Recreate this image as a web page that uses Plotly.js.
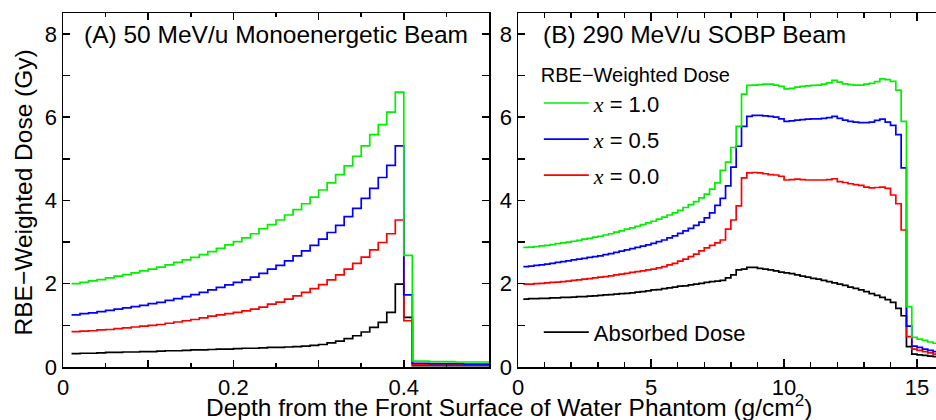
<!DOCTYPE html>
<html>
<head>
<meta charset="utf-8">
<script src="https://cdn.plot.ly/plotly-3.0.1.min.js"></script>
<style>html,body{margin:0;padding:0;background:#fff;}#chart{width:936px;height:420px;}</style>
</head>
<body>
<div id="chart"></div>
<script>
// ---- Panel A: 50 MeV/u monoenergetic beam (bin left edges, last entry = right edge of final bin) ----
const depthA = [0.01,0.02,0.03,0.04,0.05,0.06,0.07,0.08,0.09,0.10,
  0.11,0.12,0.13,0.14,0.15,0.16,0.17,0.18,0.19,0.20,
  0.21,0.22,0.23,0.24,0.25,0.26,0.27,0.28,0.29,0.30,
  0.31,0.32,0.33,0.34,0.35,0.36,0.37,0.38,0.39,0.40,
  0.41,0.42,0.43,0.44,0.45,0.46,0.47,0.48,0.49,0.50];
const greenA = [2.00,2.03,2.07,2.10,2.14,2.18,2.22,2.26,2.31,2.35,
  2.40,2.45,2.51,2.57,2.63,2.70,2.77,2.85,2.93,3.01,
  3.10,3.20,3.32,3.42,3.53,3.65,3.78,3.92,4.08,4.25,
  4.42,4.62,4.83,5.06,5.31,5.58,5.82,6.12,6.60,2.68,
  0.14,0.14,0.13,0.13,0.13,0.12,0.12,0.12,0.12];
const blueA = [1.25,1.28,1.30,1.33,1.36,1.39,1.42,1.45,1.48,1.52,
  1.55,1.60,1.64,1.69,1.74,1.79,1.85,1.91,1.97,2.03,
  2.09,2.16,2.25,2.35,2.44,2.55,2.67,2.79,2.92,3.07,
  3.23,3.40,3.61,3.81,4.05,4.29,4.55,4.84,5.31,1.73,
  0.09,0.09,0.08,0.08,0.08,0.08,0.07,0.07,0.07];
const redA = [0.85,0.86,0.87,0.89,0.90,0.92,0.94,0.96,0.98,1.00,
  1.02,1.05,1.08,1.11,1.14,1.18,1.22,1.25,1.28,1.31,
  1.35,1.39,1.44,1.51,1.56,1.63,1.71,1.79,1.88,1.98,
  2.09,2.21,2.35,2.49,2.64,2.81,2.99,3.20,3.53,1.11,
  0.05,0.05,0.05,0.05,0.05,0.05,0.05,0.05,0.05];
const blackA = [0.32,0.33,0.33,0.34,0.35,0.35,0.36,0.36,0.37,0.37,
  0.38,0.39,0.39,0.40,0.41,0.41,0.42,0.43,0.43,0.44,
  0.45,0.45,0.46,0.47,0.47,0.48,0.49,0.50,0.52,0.54,
  0.58,0.62,0.68,0.75,0.84,0.95,1.07,1.31,1.99,1.19,
  0.03,0.03,0.03,0.03,0.03,0.03,0.03,0.03,0.03];

// ---- Panel B: 290 MeV/u SOBP beam ----
const depthB = [0.2,0.4,0.6,0.8,1.0,1.2,1.4,1.6,1.8,2.0,
  2.2,2.4,2.6,2.8,3.0,3.2,3.4,3.6,3.8,4.0,
  4.2,4.4,4.6,4.8,5.0,5.2,5.4,5.6,5.8,6.0,
  6.2,6.4,6.6,6.8,7.0,7.2,7.4,7.6,7.8,8.0,
  8.2,8.4,8.6,8.8,9.0,9.2,9.4,9.6,9.8,10.0,
  10.2,10.4,10.6,10.8,11.0,11.2,11.4,11.6,11.8,12.0,
  12.2,12.4,12.6,12.8,13.0,13.2,13.4,13.6,13.8,14.0,
  14.2,14.4,14.6,14.8,15.0,15.2,15.4,15.6,15.8];
const greenB = [2.87,2.88,2.89,2.91,2.92,2.94,2.96,2.98,3.00,3.02,
  3.04,3.07,3.09,3.12,3.14,3.17,3.20,3.24,3.27,3.31,
  3.34,3.38,3.42,3.46,3.50,3.55,3.60,3.65,3.70,3.76,
  3.83,3.90,3.97,4.06,4.15,4.27,4.42,4.72,4.92,5.27,
  5.78,6.55,6.76,6.77,6.78,6.79,6.79,6.77,6.74,6.68,
  6.69,6.72,6.74,6.75,6.76,6.77,6.79,6.82,6.88,6.84,
  6.80,6.78,6.77,6.77,6.79,6.81,6.85,6.92,6.90,6.86,
  6.65,5.90,1.45,0.71,0.67,0.64,0.60,0.57];
const blueB = [2.41,2.42,2.44,2.45,2.47,2.49,2.51,2.53,2.55,2.57,
  2.59,2.61,2.63,2.65,2.67,2.70,2.72,2.75,2.78,2.81,
  2.84,2.87,2.90,2.93,2.97,3.01,3.05,3.10,3.15,3.21,
  3.27,3.33,3.40,3.48,3.58,3.70,3.88,4.05,4.35,4.80,
  5.30,5.78,6.02,6.04,6.04,6.03,6.02,6.00,5.96,5.90,
  5.91,5.93,5.94,5.95,5.96,5.96,5.97,5.99,6.02,5.97,
  5.93,5.90,5.88,5.87,5.87,5.88,5.92,5.95,5.88,5.80,
  5.58,4.78,0.98,0.50,0.47,0.43,0.40,0.37];
const redB = [1.99,1.99,2.00,2.01,2.02,2.03,2.04,2.05,2.06,2.08,
  2.09,2.11,2.12,2.14,2.16,2.17,2.19,2.21,2.23,2.25,
  2.27,2.29,2.31,2.33,2.35,2.38,2.41,2.45,2.49,2.54,
  2.59,2.65,2.71,2.79,2.86,2.92,2.98,3.05,3.31,3.53,
  3.87,4.54,4.66,4.67,4.66,4.64,4.62,4.61,4.58,4.49,
  4.50,4.51,4.50,4.49,4.49,4.49,4.49,4.50,4.52,4.45,
  4.43,4.40,4.38,4.36,4.32,4.30,4.31,4.32,4.29,4.13,
  3.92,3.29,0.73,0.43,0.40,0.37,0.34,0.31];
const blackB = [1.63,1.64,1.64,1.65,1.65,1.66,1.66,1.67,1.67,1.68,
  1.69,1.69,1.70,1.71,1.72,1.73,1.74,1.75,1.76,1.77,
  1.78,1.80,1.81,1.83,1.85,1.86,1.88,1.90,1.92,1.94,
  1.95,1.97,1.99,2.01,2.03,2.05,2.06,2.08,2.14,2.21,
  2.33,2.35,2.39,2.39,2.37,2.35,2.33,2.31,2.28,2.26,
  2.24,2.21,2.18,2.16,2.13,2.11,2.08,2.05,2.02,1.99,
  1.96,1.92,1.89,1.85,1.81,1.76,1.72,1.67,1.62,1.55,
  1.41,1.23,0.49,0.31,0.29,0.28,0.26,0.25];

const yTickVals = [0,1,2,3,4,5,6,7,8];
const yTickText = ['0','','2','','4','','6','','8'];
const xATickVals = [0,0.1,0.2,0.3,0.4,0.5];
const xATickText = ['0','','0.2','','0.4',''];
const xBTickVals = [0,5,10,15];
const xBTickText = ['0','5','10','15'];

const seriesNames = ['<span style="font-family:Liberation Serif;font-style:italic">x</span> = 1.0',
  '<span style="font-family:Liberation Serif;font-style:italic">x</span> = 0.5',
  '<span style="font-family:Liberation Serif;font-style:italic">x</span> = 0.0',
  'Absorbed Dose'];

const COL = {green:'#00f000', blue:'#0000ff', red:'#ff0000', black:'#000000'};
const LW = 1.7;
function step(v){ return v.concat([v[v.length-1]]); }

const traces = [];
function addA(vals, color){
  traces.push({x: depthA, y: step(vals), xaxis:'x', yaxis:'y', mode:'lines',
    line:{color:color, width:LW, shape:'hv'}, showlegend:false, hoverinfo:'skip'});
}
addA(blackA, COL.black); addA(redA, COL.red); addA(blueA, COL.blue); addA(greenA, COL.green);

function addB(vals, color, name, rank, legend){
  traces.push({x: depthB, y: step(vals), xaxis:'x2', yaxis:'y2', mode:'lines',
    line:{color:color, width:LW, shape:'hv'}, name:name, legendrank:rank,
    legendgroup:'g'+rank, legend:legend, showlegend:true, hoverinfo:'skip'});
}
addB(blackB, COL.black, seriesNames[3], 4, 'legend2');
addB(redB, COL.red, seriesNames[2], 3, 'legend');
addB(blueB, COL.blue, seriesNames[1], 2, 'legend');
addB(greenB, COL.green, seriesNames[0], 1, 'legend');

const FONT = 'Liberation Sans, Arial, sans-serif';
const axCommon = {showgrid:false, zeroline:false, showline:true, linecolor:'#000', linewidth:1.5,
  ticks:'inside', tickcolor:'#000', tickwidth:1.5, tickfont:{family:FONT, size:22, color:'#000'}};

const layout = {
  width:936, height:420,
  margin:{l:63, r:0, t:13, b:53},
  paper_bgcolor:'#fff', plot_bgcolor:'#fff',
  font:{family:FONT, color:'#000'},
  xaxis: Object.assign({}, axCommon, {domain:[0,0.488], range:[0,0.5], anchor:'y',
    tickmode:'array', tickvals:xATickVals, ticktext:xATickText, ticklen:7, mirror:'ticks',
    minor:{tickmode:'linear', tick0:0, dtick:0.05, ticks:'inside', ticklen:4, tickcolor:'#000', tickwidth:1.5}}),
  yaxis: Object.assign({}, axCommon, {range:[0,8.5], anchor:'x',
    tickmode:'array', tickvals:yTickVals, ticktext:yTickText, ticklen:7, mirror:'ticks'}),
  xaxis2: Object.assign({}, axCommon, {domain:[0.5212,1], range:[0,15.71], anchor:'y2',
    tickmode:'array', tickvals:xBTickVals, ticktext:xBTickText, ticklen:8, mirror:'ticks',
    minor:{tickmode:'linear', tick0:0, dtick:1, ticks:'inside', ticklen:5, tickcolor:'#000', tickwidth:1.5}}),
  yaxis2: Object.assign({}, axCommon, {range:[0,8.5], anchor:'x2',
    tickmode:'array', tickvals:yTickVals, ticktext:yTickText, ticklen:7, mirror:false}),
  showlegend:true,
  legend:{x:0.545, y:0.878, xref:'paper', yref:'paper', xanchor:'left', yanchor:'top',
    bgcolor:'rgba(0,0,0,0)', borderwidth:0, traceorder:'grouped', tracegroupgap:4.5, itemwidth:45,
    font:{family:FONT, size:22, color:'#000'},
    title:{text:'RBE\u2212Weighted Dose', font:{family:FONT, size:20, color:'#000'}}},
  legend2:{x:0.545, y:0.157, xref:'paper', yref:'paper', xanchor:'left', yanchor:'top',
    bgcolor:'rgba(0,0,0,0)', borderwidth:0, itemwidth:45,
    font:{family:FONT, size:22, color:'#000'}},
  annotations:[
    {text:'(A) 50 MeV/u Monoenergetic Beam', xref:'x domain', yref:'paper', x:0.044, y:0.94,
      xanchor:'left', yanchor:'middle', showarrow:false, font:{family:FONT, size:24.5, color:'#000'}},
    {text:'(B) 290 MeV/u SOBP Beam', xref:'x2 domain', yref:'paper', x:0.055, y:0.94,
      xanchor:'left', yanchor:'middle', showarrow:false, font:{family:FONT, size:24.5, color:'#000'}},
    {text:'Depth from the Front Surface of Water Phantom (g/cm<sup>2</sup>)', xref:'paper', yref:'paper',
      x:0.511, y:-0.109, xanchor:'center', yanchor:'middle', showarrow:false,
      font:{family:FONT, size:24.5, color:'#000'}},
    {text:'RBE\u2212Weighted Dose (Gy)', xref:'paper', yref:'paper', x:-0.0447, y:0.493,
      xanchor:'center', yanchor:'middle', textangle:-90, showarrow:false,
      font:{family:FONT, size:24.5, color:'#000'}}
  ]
};

Plotly.newPlot('chart', traces, layout, {staticPlot:true, displayModeBar:false});
</script>
</body>
</html>
